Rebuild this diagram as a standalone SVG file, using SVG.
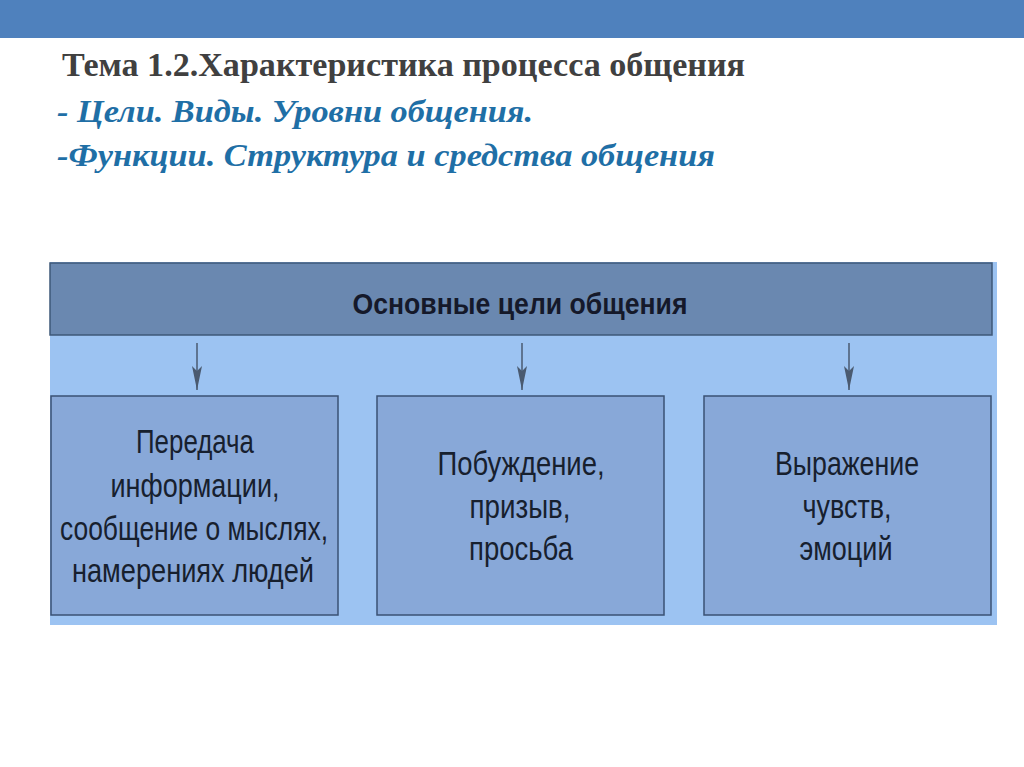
<svg xmlns="http://www.w3.org/2000/svg" width="1024" height="767" viewBox="0 0 1024 767">
<defs>
<style>
.title{font-family:"Liberation Serif","Times New Roman",serif;font-weight:bold;font-size:33px;fill:#404040}
.sub{font-family:"Liberation Serif","Times New Roman",serif;font-weight:bold;font-style:italic;font-size:32px;fill:#1f6fa6}
.hdr{font-family:"Liberation Sans",Arial,sans-serif;font-weight:bold;font-size:29px;fill:#15192a;text-anchor:middle}
.lbl{font-family:"Liberation Sans",Arial,sans-serif;font-size:34px;fill:#17202e;text-anchor:middle}
.box{fill:#88a8d8;stroke:#3a5274;stroke-width:1.5}
.conn{stroke:#4a5a70;stroke-width:1.5;fill:none}
</style>
<marker id="ah" viewBox="0 0 24 10" refX="24" refY="5" markerWidth="24" markerHeight="10" markerUnits="userSpaceOnUse" orient="auto">
<path d="M0,0 L24,5 L0,10 L5,5 Z" fill="#4a5a70"/>
</marker>
</defs>
<rect x="0" y="0" width="1024" height="767" fill="#ffffff"/>
<rect x="0" y="0" width="1024" height="38" fill="#4f81bd"/>
<text class="title" x="62" y="76" textLength="683" lengthAdjust="spacingAndGlyphs">Тема 1.2.Характеристика процесса общения</text>
<text class="sub" x="57" y="122" textLength="476" lengthAdjust="spacingAndGlyphs">- Цели. Виды. Уровни общения.</text>
<text class="sub" x="57" y="166" textLength="658" lengthAdjust="spacingAndGlyphs">-Функции. Структура и средства общения</text>
<rect x="50" y="262" width="947" height="363" fill="#9cc3f2"/>
<g id="header">
<rect x="50" y="263" width="942" height="72" fill="#6a88b0" stroke="#3e5878" stroke-width="1.5"/>
<text class="hdr" x="520" y="314" textLength="335" lengthAdjust="spacingAndGlyphs">Основные цели общения</text>
</g>
<g id="connectors">
<line class="conn" x1="197" y1="343" x2="197" y2="390" marker-end="url(#ah)"/>
<line class="conn" x1="522" y1="343" x2="522" y2="390" marker-end="url(#ah)"/>
<line class="conn" x1="849" y1="343" x2="849" y2="390" marker-end="url(#ah)"/>
</g>
<g id="box1">
<rect class="box" x="51" y="396" width="287" height="219"/>
<text class="lbl" x="195" y="453" textLength="118" lengthAdjust="spacingAndGlyphs">Передача</text>
<text class="lbl" x="195" y="497" textLength="169" lengthAdjust="spacingAndGlyphs">информации,</text>
<text class="lbl" x="194" y="540" textLength="268" lengthAdjust="spacingAndGlyphs">сообщение о мыслях,</text>
<text class="lbl" x="193" y="582" textLength="242" lengthAdjust="spacingAndGlyphs">намерениях людей</text>
</g>
<g id="box2">
<rect class="box" x="377" y="396" width="287" height="219"/>
<text class="lbl" x="521" y="475" textLength="167" lengthAdjust="spacingAndGlyphs">Побуждение,</text>
<text class="lbl" x="520" y="518" textLength="101" lengthAdjust="spacingAndGlyphs">призыв,</text>
<text class="lbl" x="521" y="560" textLength="104" lengthAdjust="spacingAndGlyphs">просьба</text>
</g>
<g id="box3">
<rect class="box" x="704" y="396" width="287" height="219"/>
<text class="lbl" x="847" y="475" textLength="144" lengthAdjust="spacingAndGlyphs">Выражение</text>
<text class="lbl" x="847" y="518" textLength="89" lengthAdjust="spacingAndGlyphs">чувств,</text>
<text class="lbl" x="846" y="560" textLength="93" lengthAdjust="spacingAndGlyphs">эмоций</text>
</g>
</svg>
